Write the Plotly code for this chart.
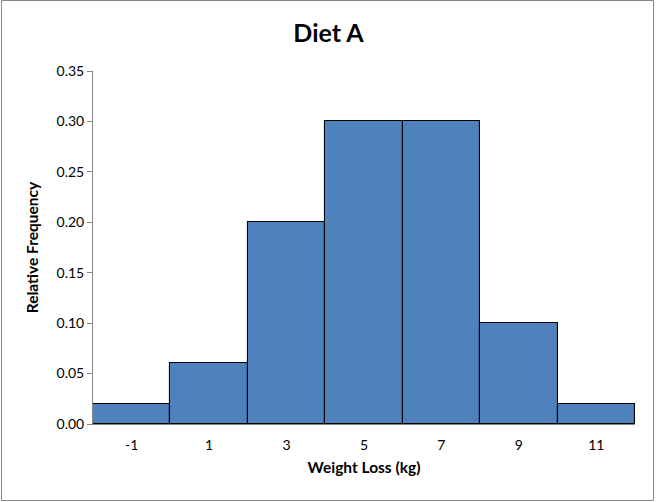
import plotly.graph_objects as go

categories = ["-1", "1", "3", "5", "7", "9", "11"]
rel_freq = [0.02, 0.06, 0.20, 0.30, 0.30, 0.10, 0.02]
y_ticks = [0, 0.05, 0.10, 0.15, 0.20, 0.25, 0.30, 0.35]

W, H = 656, 502
L, R, T, B = 93, 21, 71, 78
pw, ph = W - L - R, H - T - B

def px_x(p):
    return (p - L) / pw

def px_y(p):
    return (H - B - p) / ph

fig = go.Figure(go.Bar(
    x=categories, y=rel_freq,
    marker=dict(color="#4F81BD", line=dict(color="black", width=1.1)),
))

fig.update_layout(
    width=W, height=H,
    margin=dict(l=L, r=R, t=T, b=B),
    paper_bgcolor="white", plot_bgcolor="white",
    bargap=0,
    showlegend=False,
    font=dict(family="Lato, Open Sans, sans-serif", color="black", size=14),
    title=dict(text="<b>Diet A</b>", x=328.5 / W, xref="container", y=1 - 33 / H, yanchor="middle",
               xanchor="center", font=dict(size=25, color="black")),
    xaxis=dict(
        type="category", showline=True, linecolor="#868686", linewidth=1,
        ticks="outside", ticklen=8, tickcolor="rgba(0,0,0,0)", showgrid=False,
        title=dict(text="<b>Weight Loss (kg)</b>", font=dict(size=15.5), standoff=10),
        tickfont=dict(size=14),
    ),
    yaxis=dict(
        range=[0, 0.35], tickvals=y_ticks, tickformat=".2f",
        showline=True, linecolor="#868686", linewidth=1,
        ticks="outside", ticklen=5, tickcolor="#868686",
        showgrid=False, zeroline=False,
        title=dict(text="<b>Relative Frequency</b>", font=dict(size=15.5), standoff=14),
        tickfont=dict(size=14),
    ),
    shapes=[dict(type="rect", xref="paper", yref="paper",
                 x0=px_x(1.5), x1=px_x(653.5), y0=px_y(500.5), y1=px_y(0.5),
                 line=dict(color="#868686", width=1), fillcolor="rgba(0,0,0,0)", layer="below")],
)

fig.write_html("out.html", config={"displayModeBar": False},
               post_script="document.body.style.margin='0';document.body.style.overflow='hidden';")
